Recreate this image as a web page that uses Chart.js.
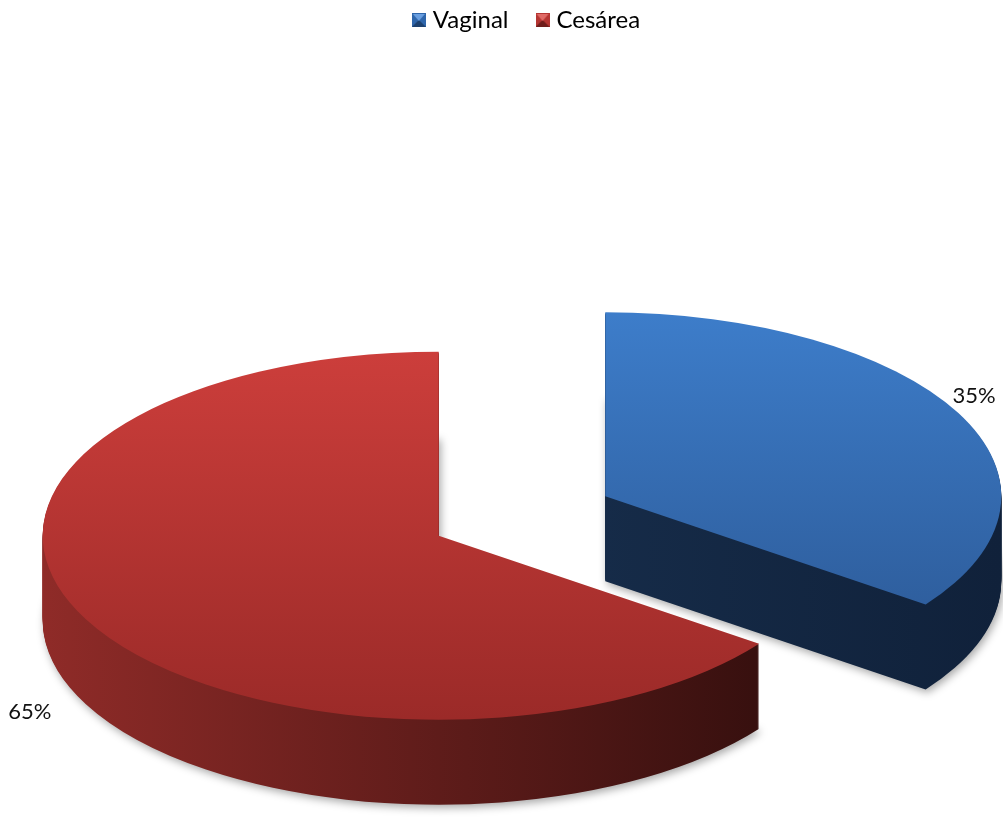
<!DOCTYPE html>
<html>
<head>
<meta charset="utf-8">
<script src="https://cdn.jsdelivr.net/npm/chart.js@4.4.1/dist/chart.umd.min.js"></script>
<style>
    html, body { margin: 0; padding: 0; background: #fff; }
    #wrap { width: 1003px; height: 825px; }
</style>
</head>
<body>
<div id="wrap"><canvas id="myChart"></canvas></div>
<script>
// data
const categories = ["Vaginal", "Cesárea"];
const values = [35, 65];

// look of the tilted pie
const RX = 396, RY = 184, DEPTH = 85, EXPLODE = 0.236;
const CENTER = { x: 522, y: 516 };
const topColors = [["#3d7dca", "#2b5793"], ["#cc3e3b", "#9b2a28"]];
const sideColors = [["#1b3556", "#10213a"], ["#8f2b28", "#2e0d0c"]];
const iconColors = [["#6a9fe0", "#2f66ab", "#1d416f"], ["#e06a66", "#b53532", "#6f1d1b"]];

function makeIcon(c) {
    const cv = document.createElement('canvas');
    cv.width = 14; cv.height = 14;
    const g = cv.getContext('2d');
    g.fillStyle = c[1]; g.fillRect(0, 0, 14, 14);
    g.fillStyle = c[2];
    g.beginPath(); g.moveTo(0, 14); g.lineTo(14, 14); g.lineTo(7, 7); g.closePath(); g.fill();
    g.fillStyle = c[0];
    g.beginPath(); g.moveTo(1, 1); g.lineTo(13, 1); g.lineTo(7, 8); g.closePath(); g.fill();
    return cv;
}
const icons = iconColors.map(makeIcon);

const pie3d = {
    id: 'pie3d',
    beforeDatasetsDraw(chart) {
        const ctx = chart.ctx;
        const arcs = chart.getDatasetMeta(0).data;
        const R = arcs[0].outerRadius;
        const sx = RX / R, sy = RY / R;
        const e = EXPLODE * R;

        const place = (arc, d) => {
            const mid = (arc.startAngle + arc.endAngle) / 2;
            ctx.translate(CENTER.x, CENTER.y + d);
            ctx.scale(sx, sy);
            ctx.translate(-arc.x + Math.cos(mid) * e, -arc.y + Math.sin(mid) * e);
        };
        const paint = (arc, fill, d, shadow) => {
            ctx.save();
            if (shadow) {
                ctx.shadowColor = 'rgba(0,0,0,0.35)';
                ctx.shadowBlur = 8;
                ctx.shadowOffsetX = 2;
                ctx.shadowOffsetY = 3;
            }
            place(arc, d);
            const el = Object.create(arc);
            el.options = Object.assign({}, arc.options, { backgroundColor: fill, borderWidth: 0, offset: 0, spacing: 0 });
            el.draw(ctx);
            ctx.restore();
        };

        const sideFill = arcs.map((arc, i) => {
            const g = ctx.createLinearGradient(arc.x - R, 0, arc.x + R, 0);
            g.addColorStop(0, sideColors[i][0]);
            g.addColorStop(1, sideColors[i][1]);
            return g;
        });
        const topFill = arcs.map((arc, i) => {
            const g = ctx.createLinearGradient(0, arc.y - R, 0, arc.y + R);
            g.addColorStop(0, topColors[i][0]);
            g.addColorStop(1, topColors[i][1]);
            return g;
        });

        for (let d = DEPTH; d >= 1; d--) {
            arcs.forEach((arc, i) => paint(arc, sideFill[i], d, d === DEPTH));
        }
        arcs.forEach((arc, i) => paint(arc, topFill[i], 0, false));
        return false;
    },
    afterDraw(chart) {
        const ctx = chart.ctx;
        const arcs = chart.getDatasetMeta(0).data;
        const R = arcs[0].outerRadius;
        const e = EXPLODE * R;
        const total = values.reduce((a, b) => a + b, 0);
        ctx.save();
        ctx.font = '22px Lato';
        ctx.fillStyle = '#111';
        ctx.textAlign = 'center';
        ctx.textBaseline = 'middle';
        arcs.forEach((arc, i) => {
            const mid = (arc.startAngle + arc.endAngle) / 2;
            const c = Math.cos(mid), s = Math.sin(mid);
            let x = CENTER.x + c * e * RX / R + c * RX + c * 18;
            let y = CENTER.y + s * e * RY / R + s * RY + s * 38;
            if (s > 0) { x -= 40; y += DEPTH - 10; }
            ctx.fillText(Math.round(values[i] / total * 100) + '%', x, y);
        });
        ctx.restore();
    }
};

new Chart(document.getElementById("myChart"), {
    type: 'pie',
    data: {
        labels: categories,
        datasets: [{
            data: values,
            backgroundColor: ["#346ead", "#b53431"],
            borderWidth: 0,
        }]
    },
    options: {
        responsive: true,
        maintainAspectRatio: false,
        animation: false,
        layout: {
            padding: { top: -24, left: 54 },
        },
        plugins: {
            legend: {
                display: true,
                position: 'top',
                labels: {
                    usePointStyle: true,
                    boxWidth: 4,
                    boxHeight: 14,
                    padding: 32,
                    color: '#000',
                    font: { family: 'Lato', size: 24 },
                    generateLabels: () => categories.map((t, i) => ({
                        text: t,
                        pointStyle: icons[i],
                        fillStyle: 'transparent',
                        strokeStyle: 'transparent',
                        lineWidth: 0,
                        hidden: false,
                        index: i,
                    })),
                },
            },
            tooltip: { enabled: false },
        }
    },
    plugins: [pie3d]
});
</script>
</body>
</html>
